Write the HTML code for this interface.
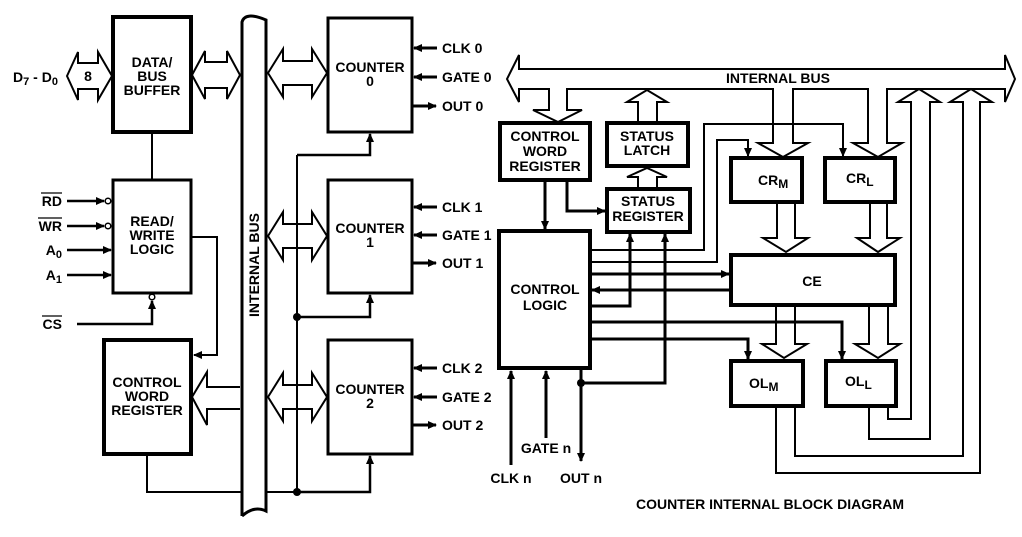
<!DOCTYPE html>
<html><head><meta charset="utf-8"><style>
html,body{margin:0;padding:0;background:#fff;}
svg{display:block;}
text{font-family:"Liberation Sans",Arial,sans-serif;font-weight:bold;font-size:14px;fill:#000;}
</style></head><body>
<svg width="1022" height="537" viewBox="0 0 1022 537" xmlns="http://www.w3.org/2000/svg">
<defs>
<marker id="a" markerUnits="userSpaceOnUse" markerWidth="10" markerHeight="10" refX="8" refY="5" orient="auto"><path d="M0,1 L9,5 L0,9 Z" fill="#000"/></marker>
</defs>
<g fill="none" stroke="#000">
<rect x="113" y="17" width="78" height="115" stroke-width="4"/>
<rect x="113" y="180" width="78" height="113" stroke-width="3"/>
<rect x="104" y="340" width="87" height="114" stroke-width="4"/>
<rect x="328" y="18" width="84" height="114" stroke-width="3"/>
<rect x="328" y="180" width="84" height="113" stroke-width="3"/>
<rect x="328" y="340" width="84" height="114" stroke-width="3"/>
<polygon points="67,76 78,52 78,63 98,63 98,52 112,76 98,100 98,89 78,89 78,100" stroke-width="2"/>
<polygon points="192,75 205,51 205,62 227,62 227,51 240,75 227,99 227,88 205,88 205,99" stroke-width="2"/>
<polygon points="268,73 283,49 283,61 312,61 312,49 327,73 312,97 312,85 283,85 283,97" stroke-width="2"/>
<polygon points="268,236 283,212 283,224 312,224 312,212 327,236 312,260 312,248 283,248 283,260" stroke-width="2"/>
<polygon points="268,397 283,373 283,385 312,385 312,373 327,397 312,421 312,409 283,409 283,421" stroke-width="2"/>
<polyline points="240,387 207,387 207,372 192,397 207,425 207,409 240,409" stroke-width="2"/>
<path d="M242,516 L242,22 C244,15 252,14 266,20 L266,511 C258,507 250,509 242,516" stroke-width="3"/>
<line x1="152" y1="132" x2="152" y2="180" stroke-width="2"/>
<line x1="67" y1="201" x2="104" y2="201" stroke-width="2.5" marker-end="url(#a)"/>
<line x1="67" y1="226" x2="104" y2="226" stroke-width="2.5" marker-end="url(#a)"/>
<line x1="67" y1="250" x2="111" y2="250" stroke-width="2.5" marker-end="url(#a)"/>
<line x1="67" y1="275" x2="111" y2="275" stroke-width="2.5" marker-end="url(#a)"/>
<circle cx="108" cy="201" r="2.8" stroke-width="1.5" fill="#fff"/>
<circle cx="108" cy="226" r="2.8" stroke-width="1.5" fill="#fff"/>
<polyline points="77,324 152,324 152,301" stroke-width="2.5" marker-end="url(#a)"/>
<circle cx="152" cy="297" r="2.8" stroke-width="1.5" fill="#fff"/>
<polyline points="191,237 217,237 217,355 194,355" stroke-width="2" marker-end="url(#a)"/>
<polyline points="147,454 147,492 242,492" stroke-width="2"/>
<line x1="266" y1="492" x2="297" y2="492" stroke-width="2"/>
<polyline points="297,492 370,492 370,456" stroke-width="2.5" marker-end="url(#a)"/>
<line x1="297" y1="155" x2="297" y2="492" stroke-width="2"/>
<polyline points="297,155 370,155 370,134" stroke-width="2.5" marker-end="url(#a)"/>
<polyline points="297,317 370,317 370,295" stroke-width="2.5" marker-end="url(#a)"/>
<line x1="437" y1="48" x2="414" y2="48" stroke-width="3" marker-end="url(#a)"/>
<line x1="437" y1="77" x2="414" y2="77" stroke-width="3" marker-end="url(#a)"/>
<line x1="412" y1="106" x2="436" y2="106" stroke-width="3" marker-end="url(#a)"/>
<line x1="437" y1="207" x2="414" y2="207" stroke-width="3" marker-end="url(#a)"/>
<line x1="437" y1="235" x2="414" y2="235" stroke-width="3" marker-end="url(#a)"/>
<line x1="412" y1="263" x2="436" y2="263" stroke-width="3" marker-end="url(#a)"/>
<line x1="437" y1="368" x2="414" y2="368" stroke-width="3" marker-end="url(#a)"/>
<line x1="437" y1="397" x2="414" y2="397" stroke-width="3" marker-end="url(#a)"/>
<line x1="412" y1="425" x2="436" y2="425" stroke-width="3" marker-end="url(#a)"/>
<line x1="41" y1="193" x2="62" y2="193" stroke-width="1.2"/>
<line x1="38" y1="218" x2="62" y2="218" stroke-width="1.2"/>
<line x1="42" y1="316" x2="62" y2="316" stroke-width="1.2"/>

<path d="M519,69 L519,55 L507,79 L519,102 L519,89 L549,89 L549,110 L533,110 L558,122 L582,110 L567,110 L567,89 L773,89 L773,143 L758,143 L783,157 L808,143 L793,143 L793,89 L868,89 L868,143 L853,143 L878,157 L902,143 L887,143 L887,89 L1005,89 L1005,102 L1015,79 L1005,55 L1005,69 Z" stroke-width="2"/>
<rect x="500" y="123" width="90" height="57" stroke-width="4"/>
<rect x="607" y="123" width="81" height="43" stroke-width="4"/>
<rect x="607" y="189" width="83" height="43" stroke-width="4"/>
<rect x="499" y="231" width="91" height="137" stroke-width="4"/>
<rect x="731" y="158" width="71" height="44" stroke-width="4"/>
<rect x="825" y="158" width="70" height="44" stroke-width="4"/>
<rect x="731" y="255" width="164" height="50" stroke-width="4"/>
<rect x="731" y="361" width="72" height="45" stroke-width="4"/>
<rect x="826" y="361" width="70" height="45" stroke-width="4"/>
<polyline points="638,122 638,102 627,102 647,90 667,102 657,102 657,122" stroke-width="2"/>
<polyline points="638,187 638,177 627,177 647,168 667,177 657,177 657,187" stroke-width="2"/>
<polyline points="777,202 777,238 763,238 786,252 808,238 795,238 795,202" stroke-width="2"/>
<polyline points="870,202 870,238 857,238 878,252 900,238 887,238 887,202" stroke-width="2"/>
<polyline points="776,305 776,344 762,344 784,358 807,344 795,344 795,305" stroke-width="2"/>
<polyline points="869,305 869,344 855,344 878,358 900,344 888,344 888,305" stroke-width="2"/>
<polyline points="888,406 888,419 911,419 911,102 898,102 919,89 940,102 930,102 930,439 869,439 869,406" stroke-width="2"/>
<polyline points="795,406 795,456 963,456 963,102 950,102 971,89 992,102 980,102 980,473 776,473 776,406" stroke-width="2"/>
<line x1="545" y1="180" x2="545" y2="229" stroke-width="3" marker-end="url(#a)"/>
<polyline points="567,180 567,211 605,211" stroke-width="3" marker-end="url(#a)"/>
<polyline points="590,250 704,250 704,124 843,124 843,156" stroke-width="2" marker-end="url(#a)"/>
<polyline points="590,262 717,262 717,140 748,140 748,156" stroke-width="2" marker-end="url(#a)"/>
<line x1="590" y1="274" x2="729" y2="274" stroke-width="3" marker-end="url(#a)"/>
<line x1="731" y1="290" x2="592" y2="290" stroke-width="3" marker-end="url(#a)"/>
<polyline points="590,306 630,306 630,234" stroke-width="3" marker-end="url(#a)"/>
<polyline points="581,383 665,383 665,234" stroke-width="3" marker-end="url(#a)"/>
<polyline points="590,322 842,322 842,359" stroke-width="3" marker-end="url(#a)"/>
<polyline points="590,339 748,339 748,359" stroke-width="3" marker-end="url(#a)"/>
<line x1="581" y1="368" x2="581" y2="461" stroke-width="3" marker-end="url(#a)"/>
<line x1="511" y1="465" x2="511" y2="371" stroke-width="3" marker-end="url(#a)"/>
<line x1="546" y1="438" x2="546" y2="371" stroke-width="3" marker-end="url(#a)"/>
</g>
<g fill="#000">
<circle cx="297" cy="317" r="4"/><circle cx="297" cy="492" r="4"/><circle cx="581" cy="383" r="4"/>
</g>
<text x="13" y="82">D<tspan font-size="11" dy="3">7</tspan><tspan dy="-3"> - D</tspan><tspan font-size="11" dy="3">0</tspan></text>
<text x="88" y="81" text-anchor="middle">8</text>
<g text-anchor="middle">
<text x="152" y="67">DATA/</text><text x="152" y="81">BUS</text><text x="152" y="95">BUFFER</text>
<text x="152" y="226">READ/</text><text x="152" y="240">WRITE</text><text x="152" y="254">LOGIC</text>
<text x="147" y="387">CONTROL</text><text x="147" y="401">WORD</text><text x="147" y="415">REGISTER</text>
<text x="370" y="72">COUNTER</text><text x="370" y="86">0</text>
<text x="370" y="233">COUNTER</text><text x="370" y="247">1</text>
<text x="370" y="394">COUNTER</text><text x="370" y="408">2</text>
<text x="545" y="141">CONTROL</text><text x="545" y="156">WORD</text><text x="545" y="171">REGISTER</text>
<text x="647" y="141">STATUS</text><text x="647" y="155">LATCH</text>
<text x="648" y="206">STATUS</text><text x="648" y="221">REGISTER</text>
<text x="545" y="294">CONTROL</text><text x="545" y="310">LOGIC</text>
<text x="812" y="286">CE</text>
<text x="778" y="83">INTERNAL BUS</text>
<text x="546" y="453">GATE n</text>
<text x="511" y="483">CLK n</text>
<text x="581" y="483">OUT n</text>
<text x="770" y="509">COUNTER INTERNAL BLOCK DIAGRAM</text>
</g>
<text x="758" y="185">CR<tspan font-size="12" dy="3">M</tspan></text>
<text x="846" y="183">CR<tspan font-size="12" dy="3">L</tspan></text>
<text x="749" y="388">OL<tspan font-size="12" dy="3">M</tspan></text>
<text x="845" y="386">OL<tspan font-size="12" dy="3">L</tspan></text>
<g text-anchor="end">
<text x="62" y="206">RD</text><text x="62" y="231">WR</text>
<text x="62" y="255">A<tspan font-size="11" dy="3">0</tspan></text>
<text x="62" y="280">A<tspan font-size="11" dy="3">1</tspan></text>
<text x="62" y="329">CS</text>
</g>
<g>
<text x="442" y="53">CLK 0</text><text x="442" y="82">GATE 0</text><text x="442" y="111">OUT 0</text>
<text x="442" y="212">CLK 1</text><text x="442" y="240">GATE 1</text><text x="442" y="268">OUT 1</text>
<text x="442" y="373">CLK 2</text><text x="442" y="402">GATE 2</text><text x="442" y="430">OUT 2</text>
</g>
<text transform="translate(259,265) rotate(-90)" text-anchor="middle">INTERNAL BUS</text>
</svg>
</body></html>
